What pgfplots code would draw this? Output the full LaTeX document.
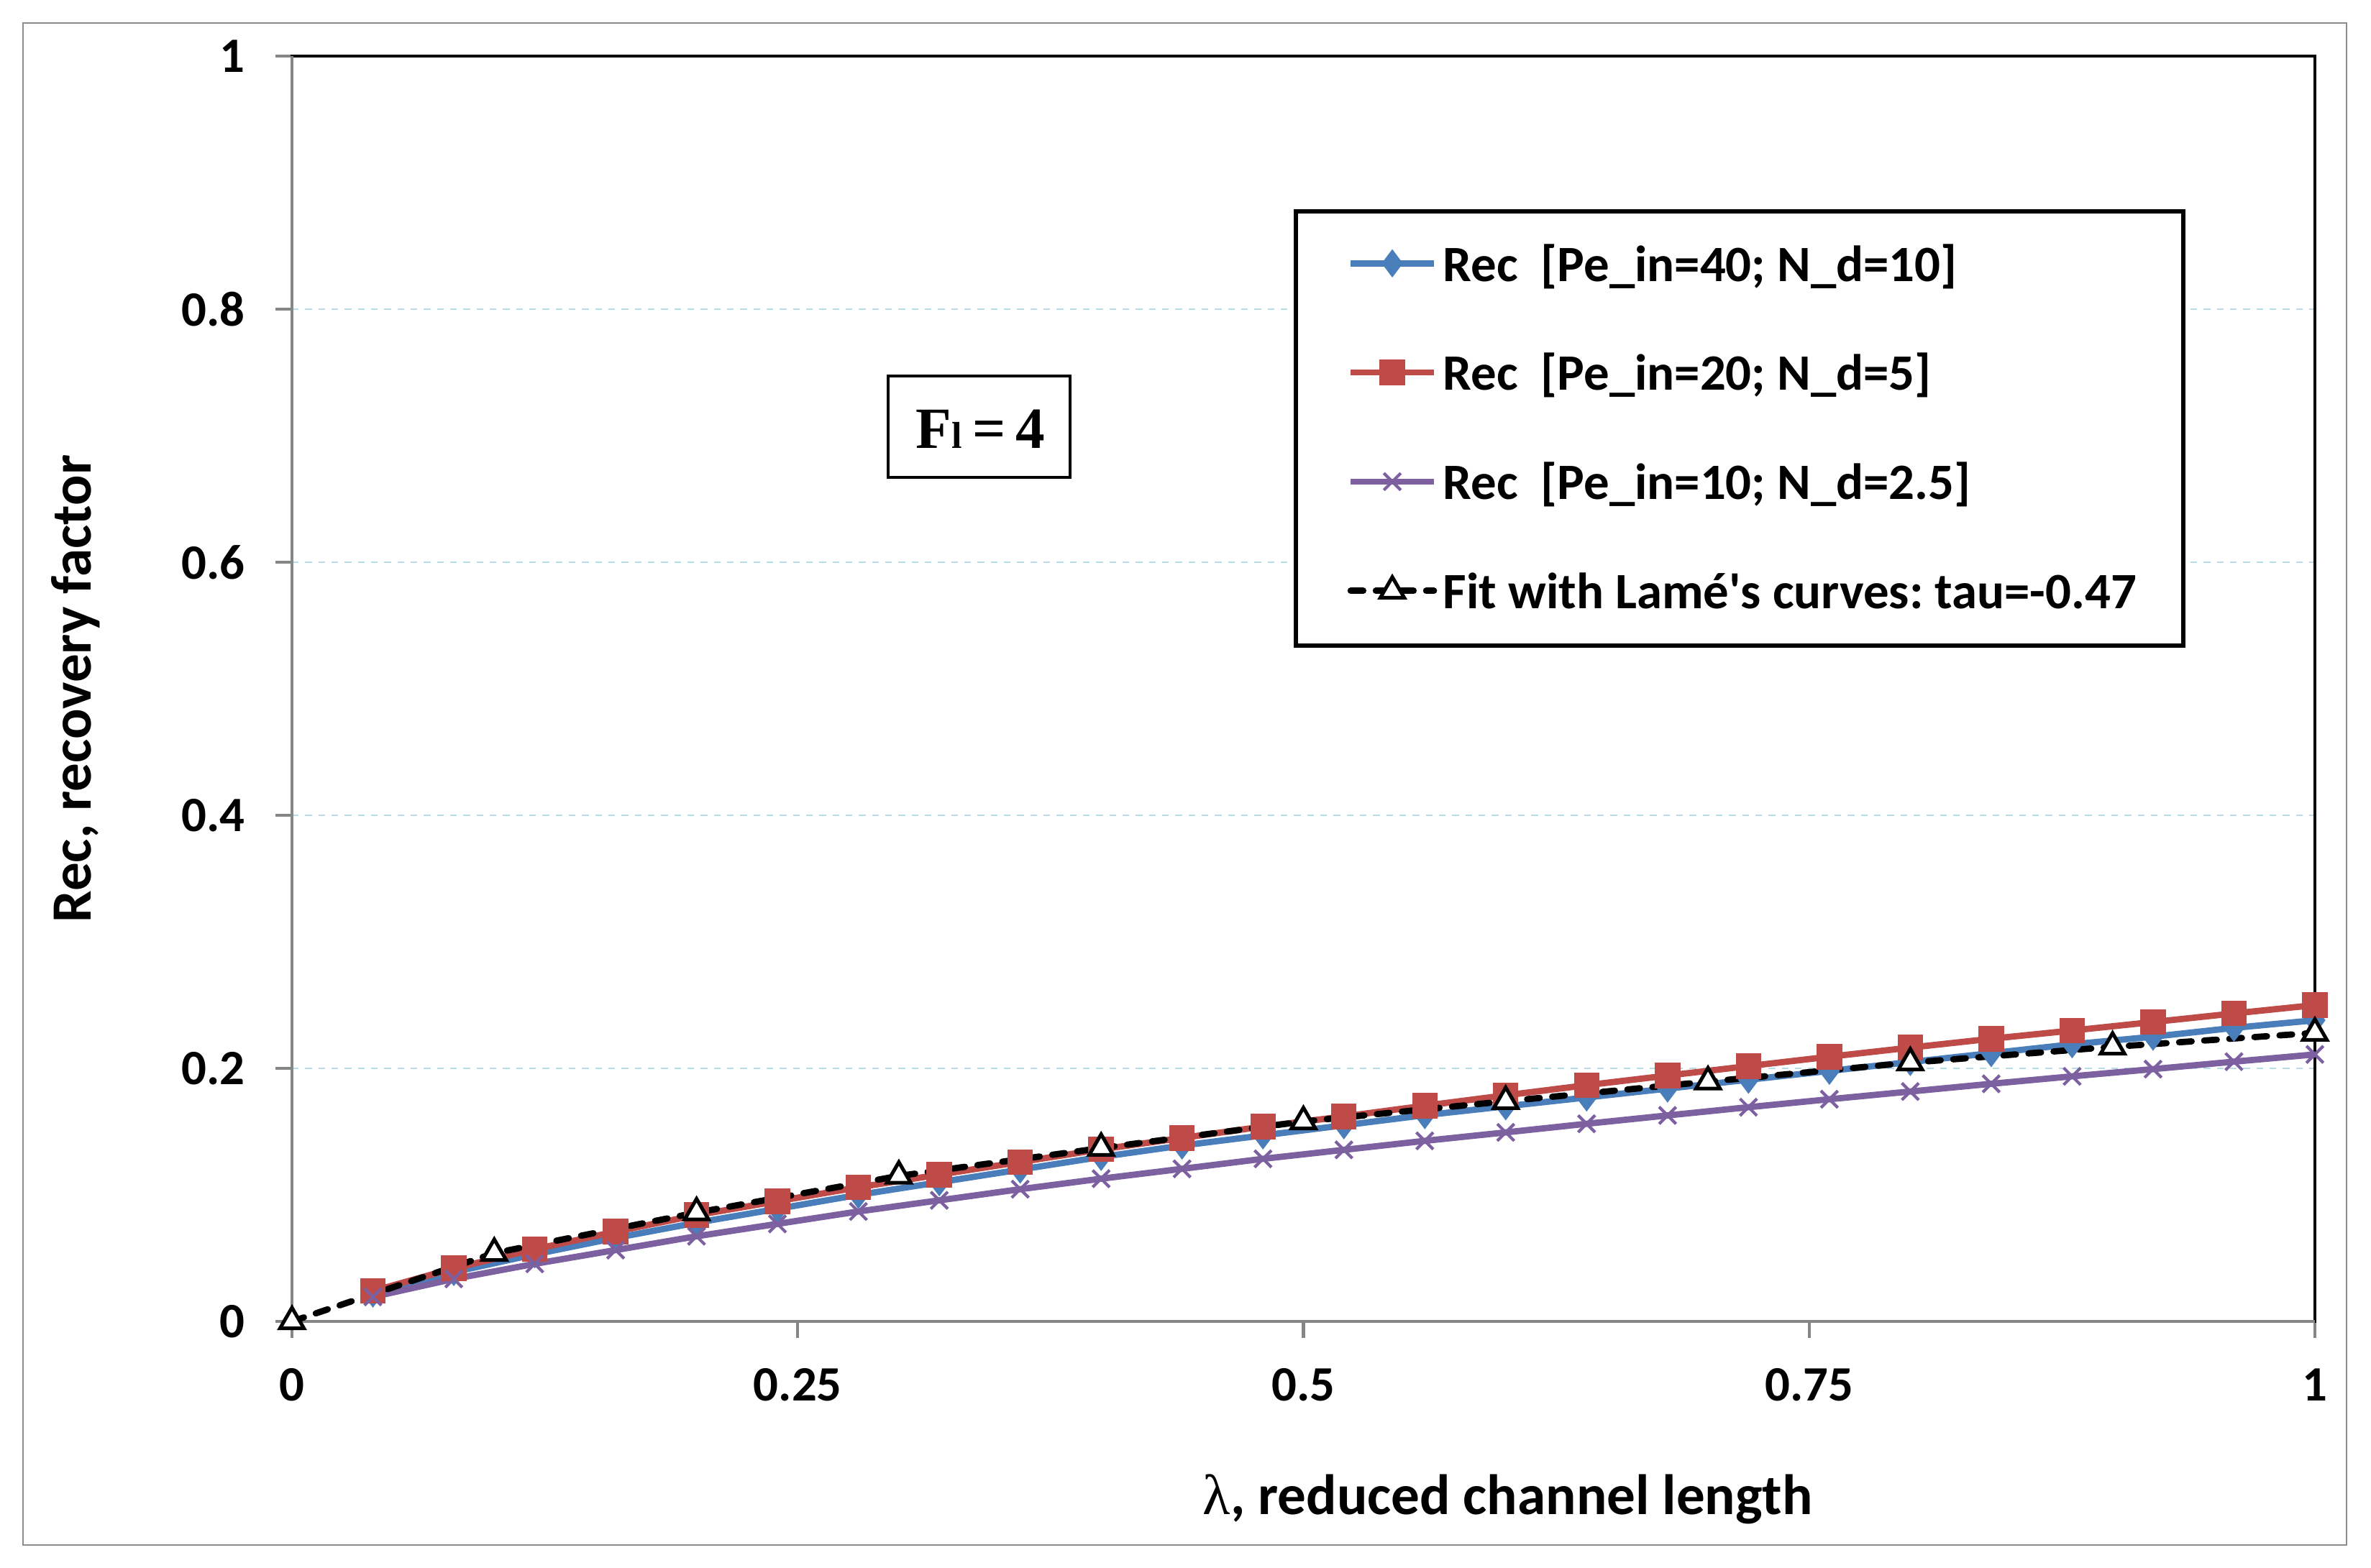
\documentclass[border=0pt]{standalone}
\usepackage{fontspec}
\setmainfont{Carlito}
\newfontfamily\lserif{Liberation Serif}
\usepackage{pgfplots}
\pgfplotsset{compat=1.18}
\definecolor{sblue}{HTML}{4A7EBB}
\definecolor{sred}{HTML}{BE4B48}
\definecolor{spurple}{HTML}{7D60A0}
\definecolor{agray}{HTML}{868686}
\definecolor{gblue}{HTML}{B7DDE8}
\definecolor{fgray}{HTML}{8C8C8C}
\frenchspacing
\begin{document}
\begin{tikzpicture}[x=1pt,y=1pt]
\path[use as bounding box] (0,0) rectangle (791.28,523.2);
\draw[fgray, line width=0.6pt] (7.7,7.4) rectangle (783.1,515.5);
\begin{axis}[
  at={(97.44pt,82.08pt)}, anchor=south west,
  scale only axis, width=675.1pt, height=422.4pt,
  xmin=0, xmax=1, ymin=0, ymax=1,
  clip=false,
  xtick={0,0.25,0.5,0.75,1},
  ytick={0,0.2,0.4,0.6,0.8,1},
  xtick pos=bottom, ytick pos=left,
  tick align=outside,
  major tick length=5.5pt,
  tick style={color=agray, line width=1pt},
  axis line style={black, line width=0.9pt},
  ymajorgrids,
  major grid style={color=gblue, line width=0.7pt, dash pattern=on 2.2pt off 2.2pt},
  /pgf/number format/assume math mode=true,
  ticklabel style={font=\fontsize{16.5}{19}\selectfont\bfseries},
  yticklabel style={anchor=east, inner sep=0pt, xshift=-10pt},
  xticklabel style={anchor=north, inner sep=0pt, yshift=-10pt},
  xlabel={{\lserif\mdseries λ}, reduced channel length},
  ylabel={Rec, recovery factor},
  every axis x label/.style={at={(axis description cs:0.601,-0.1528)}, anchor=base, font=\fontsize{19}{22}\selectfont\bfseries},
  every axis y label/.style={at={(axis description cs:-0.0995,0.5)}, rotate=90, anchor=base, font=\fontsize{19}{22}\selectfont\bfseries},
  legend cell align=left,
  legend style={draw=none, fill=none, at={(0.5215,0.7068)}, anchor=west, inner sep=0pt,
     row sep=17.5pt, column sep=0pt, font=\fontsize{17}{19.2}\selectfont\bfseries},
  legend image code/.code={\draw[mark repeat=2,mark phase=2] plot coordinates {(0pt,0pt) (13.9pt,0pt) (27.8pt,0pt)};},
]
\draw[agray, line width=1pt] (rel axis cs:0,1) -- (rel axis cs:0,0) -- (rel axis cs:1,0);
\draw[black, line width=1.5pt, fill=white] (rel axis cs:0.4963,0.5341) rectangle (rel axis cs:0.9350,0.8773);
\draw[black, line width=1pt, fill=white] (rel axis cs:0.2947,0.6670) rectangle (rel axis cs:0.3846,0.7472);
\node[anchor=base, inner sep=0pt] at (rel axis cs:0.3404,0.6898) {\lserif\bfseries\fontsize{19.5}{20}\selectfont F{\fontsize{12.5}{13}\selectfont l}\hspace{0.18em}=\hspace{0.18em}4};

\addplot[color=sblue, line width=2.1pt, mark=diamond*, mark size=4.3pt, mark options={solid, fill=sblue, draw=sblue, line width=0.5pt}] table {
x y
0.04 0.022
0.08 0.039
0.12 0.053
0.16 0.066
0.20 0.078
0.24 0.089
0.28 0.100
0.32 0.110
0.36 0.120
0.40 0.130
0.44 0.139
0.48 0.147
0.52 0.155
0.56 0.163
0.60 0.170
0.64 0.177
0.68 0.184
0.72 0.191
0.76 0.198
0.80 0.205
0.84 0.212
0.88 0.219
0.92 0.225
0.96 0.232
1.00 0.238
};
\addlegendentry{\strut Rec~ [Pe\_in=40; N\_d=10]}

\addplot[color=sred, line width=2.1pt, mark=square*, mark size=4pt, mark options={solid, fill=sred, draw=sred, line width=0.5pt}] table {
x y
0.04 0.024
0.08 0.042
0.12 0.057
0.16 0.071
0.20 0.084
0.24 0.095
0.28 0.106
0.32 0.116
0.36 0.126
0.40 0.136
0.44 0.145
0.48 0.154
0.52 0.162
0.56 0.1705
0.60 0.1787
0.64 0.1867
0.68 0.1943
0.72 0.2018
0.76 0.2092
0.80 0.2164
0.84 0.2234
0.88 0.2299
0.92 0.2366
0.96 0.2434
1.00 0.250
};
\addlegendentry{\strut Rec~ [Pe\_in=20; N\_d=5]}

\addplot[color=spurple, line width=2.1pt, mark=x, mark size=4pt, mark options={solid, draw=spurple, line width=1pt}] table {
x y
0.04 0.0194
0.08 0.0336
0.12 0.0455
0.16 0.0564
0.20 0.0673
0.24 0.0771
0.28 0.0869
0.32 0.0957
0.36 0.1045
0.40 0.1128
0.44 0.1206
0.48 0.1285
0.52 0.1356
0.56 0.1427
0.60 0.1494
0.64 0.1562
0.68 0.1628
0.72 0.1693
0.76 0.1756
0.80 0.1817
0.84 0.1878
0.88 0.1937
0.92 0.1994
0.96 0.2053
1.00 0.211
};
\addlegendentry{\strut Rec~ [Pe\_in=10; N\_d=2.5]}

\addplot[color=black, line width=2.1pt, dash pattern=on 4.2pt off 4.2pt, line cap=round, mark=triangle*, mark size=4.6pt, mark options={solid, fill=white, draw=black, line width=1.2pt}] table {
x y
0.0 0.0
0.1 0.054
0.2 0.086
0.3 0.115
0.4 0.137
0.5 0.158
0.6 0.174
0.7 0.1895
0.8 0.2045
0.9 0.217
1.0 0.228
};
\addlegendentry{\strut Fit with Lamé\textquotesingle s curves: tau=-0.47}
\end{axis}
\end{tikzpicture}
\end{document}
